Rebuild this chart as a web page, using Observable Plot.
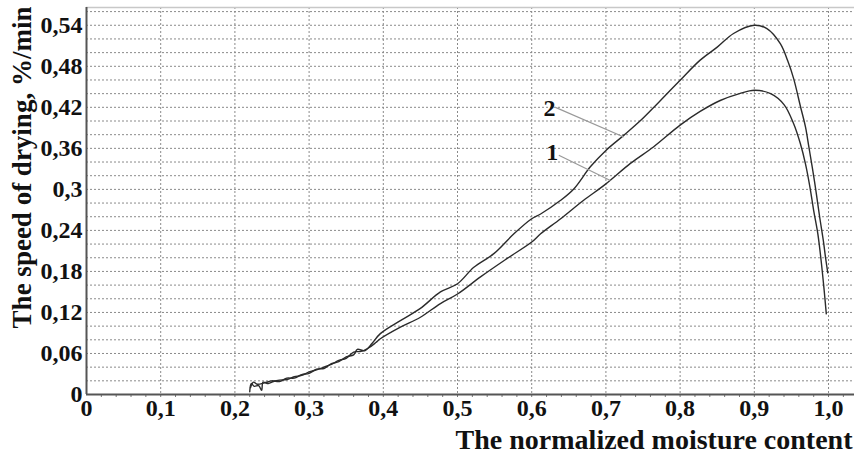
<!DOCTYPE html>
<html>
<head>
<meta charset="utf-8">
<script src="https://cdn.jsdelivr.net/npm/d3@7"></script>
<script src="https://cdn.jsdelivr.net/npm/@observablehq/plot@0.6"></script>
<style>
  html, body { margin: 0; padding: 0; background: #fff; }
  #chart { width: 858px; height: 456px; }
</style>
</head>
<body>
<div id="chart"></div>
<script>
// Tick positions and labels
const xTicks = [0, 0.1, 0.2, 0.3, 0.4, 0.5, 0.6, 0.7, 0.8, 0.9, 1.0];
const xTickLabels = ["0", "0,1", "0,2", "0,3", "0,4", "0,5", "0,6", "0,7", "0,8", "0,9", "1,0"];
const yTicks = [0, 0.06, 0.12, 0.18, 0.24, 0.30, 0.36, 0.42, 0.48, 0.54];
const yTickLabels = ["0", "0,06", "0,12", "0,18", "0,24", "0,3", "0,36", "0,42", "0,48", "0,54"];
const yGrid = [0.02,0.04,0.06,0.08,0.10,0.12,0.14,0.16,0.18,0.20,0.22,0.24,0.26,0.28,0.30,0.32,0.34,0.36,0.38,0.40,0.42,0.44,0.46,0.48,0.50,0.52,0.54,0.56];
const xGrid = [0.1, 0.2, 0.3, 0.4, 0.5, 0.6, 0.7, 0.8, 0.9, 1.0];
const xMinor = [0.02,0.04,0.06,0.08,0.10,0.12,0.14,0.16,0.18,0.20,0.22,0.24,0.26,0.28,0.30,0.32,0.34,0.36,0.38,0.40,0.42,0.44,0.46,0.48,0.50,0.52,0.54,0.56,0.58,0.60,0.62,0.64,0.66,0.68,0.70,0.72,0.74,0.76,0.78,0.80,0.82,0.84,0.86,0.88,0.90,0.92,0.94,0.96,0.98,1.00,1.02];

// Curve 1 (lower peak): [normalized moisture, speed of drying]
const curve1 = [
  [0.220,0.004],[0.222,0.016],[0.226,0.012],[0.232,0.013],[0.236,0.006],[0.238,0.018],
  [0.245,0.016],[0.252,0.019],[0.260,0.021],[0.270,0.022],[0.280,0.026],[0.290,0.028],
  [0.300,0.033],[0.310,0.036],[0.320,0.040],[0.330,0.044],[0.340,0.050],[0.350,0.053],
  [0.360,0.062],[0.370,0.063],[0.380,0.068],[0.390,0.076],[0.396,0.0815],[0.423,0.0985],
  [0.450,0.113],[0.477,0.133],[0.500,0.147],[0.531,0.172],[0.567,0.199],[0.600,0.223],
  [0.612,0.235],[0.639,0.257],[0.670,0.284],[0.700,0.308],[0.733,0.338],[0.764,0.362],
  [0.800,0.394],[0.827,0.414],[0.854,0.430],[0.880,0.440],[0.900,0.445],[0.922,0.440],
  [0.940,0.424],[0.953,0.396],[0.962,0.367],[0.969,0.337],[0.975,0.303],[0.980,0.269],
  [0.9856,0.235],[0.990,0.196],[0.9937,0.157],[0.997,0.118]
];
// Curve 2 (higher peak)
const curve2 = [
  [0.221,0.010],[0.225,0.018],[0.230,0.015],[0.240,0.017],[0.250,0.020],[0.260,0.019],
  [0.270,0.024],[0.280,0.024],[0.290,0.029],[0.300,0.031],[0.310,0.037],[0.320,0.038],
  [0.330,0.045],[0.340,0.048],[0.350,0.055],[0.360,0.058],[0.365,0.066],[0.375,0.064],
  [0.385,0.075],[0.396,0.089],[0.423,0.108],[0.450,0.126],[0.477,0.150],[0.500,0.162],
  [0.522,0.186],[0.549,0.206],[0.576,0.235],[0.600,0.257],[0.612,0.264],[0.639,0.284],
  [0.657,0.301],[0.679,0.333],[0.700,0.357],[0.724,0.379],[0.747,0.401],[0.769,0.425],
  [0.800,0.4595],[0.827,0.489],[0.850,0.508],[0.872,0.528],[0.900,0.540],[0.917,0.535],
  [0.935,0.513],[0.945,0.488],[0.953,0.462],[0.962,0.422],[0.969,0.391],[0.9735,0.362],
  [0.978,0.333],[0.9834,0.295],[0.988,0.260],[0.993,0.225],[0.996,0.200],[0.999,0.178]
];

// Curve labels with leader lines (data units)
const labelNames = ["2", "1"];
const labelAt = [[0.624, 0.418], [0.6276, 0.3546]];
const leaderFrom = [[0.632, 0.420], [0.6365, 0.350]];
const leaderTo = [[0.724, 0.3766], [0.706, 0.313]];

const labels = labelNames.map((t, i) => ({t, x: labelAt[i][0], y: labelAt[i][1]}));
const leaders = labelNames.map((t, i) => ({x1: leaderFrom[i][0], y1: leaderFrom[i][1], x2: leaderTo[i][0], y2: leaderTo[i][1]}));

const serif = "'Liberation Serif', 'Times New Roman', serif";
const textStyle = {fontFamily: serif, fontSize: 24, fontWeight: "bold", fill: "#111"};

const chart = Plot.plot({
  width: 858,
  height: 456,
  marginLeft: 86,
  marginRight: 4,
  marginTop: 7,
  marginBottom: 62,
  style: {fontFamily: serif, fontSize: "24px", fontWeight: "bold", color: "#111", background: "#fff"},
  x: {domain: [0, 1.035]},
  y: {domain: [0, 0.566]},
  marks: [
    Plot.ruleY(yGrid, {stroke: "#8a8a8a", strokeWidth: 1, strokeDasharray: "2,2"}),
    Plot.ruleX(xGrid, {stroke: "#8a8a8a", strokeWidth: 1, strokeDasharray: "2,2"}),
    Plot.ruleY([0.566], {stroke: "#c8c8c8", strokeWidth: 1.5}),
    Plot.axisX({ticks: xMinor, tickSize: 3, tickFormat: () => "", stroke: "#777"}),
    Plot.axisX({ticks: xTicks, tickSize: 0, tickPadding: 4, tickFormat: (d, i) => xTickLabels[i], label: null, ...textStyle}),
    Plot.axisY({ticks: yTicks, tickSize: 0, tickPadding: 4, tickFormat: (d, i) => yTickLabels[i], label: null, ...textStyle}),
    Plot.ruleY([0], {stroke: "#555", strokeWidth: 2}),
    Plot.ruleX([0], {stroke: "#555", strokeWidth: 2}),
    Plot.line(curve1, {x: d => d[0], y: d => d[1], stroke: "#2b2b2b", strokeWidth: 1.4, curve: "catmull-rom"}),
    Plot.line(curve2, {x: d => d[0], y: d => d[1], stroke: "#2b2b2b", strokeWidth: 1.4, curve: "catmull-rom"}),
    Plot.link(leaders, {x1: "x1", y1: "y1", x2: "x2", y2: "y2", stroke: "#999", strokeWidth: 1.2}),
    Plot.text(labels, {x: "x", y: "y", text: "t", textAnchor: "middle", ...textStyle}),
    Plot.text(["The speed of drying, %/min"], {frameAnchor: "top-left", textAnchor: "middle", lineAnchor: "middle", rotate: -90, dx: -64, dy: 160, ...textStyle, fontSize: 27}),
    Plot.text(["The normalized moisture content"], {frameAnchor: "bottom-right", textAnchor: "end", lineAnchor: "middle", dx: -2, dy: 46, ...textStyle, fontSize: 28})
  ]
});
document.getElementById("chart").appendChild(chart);
</script>
</body>
</html>
